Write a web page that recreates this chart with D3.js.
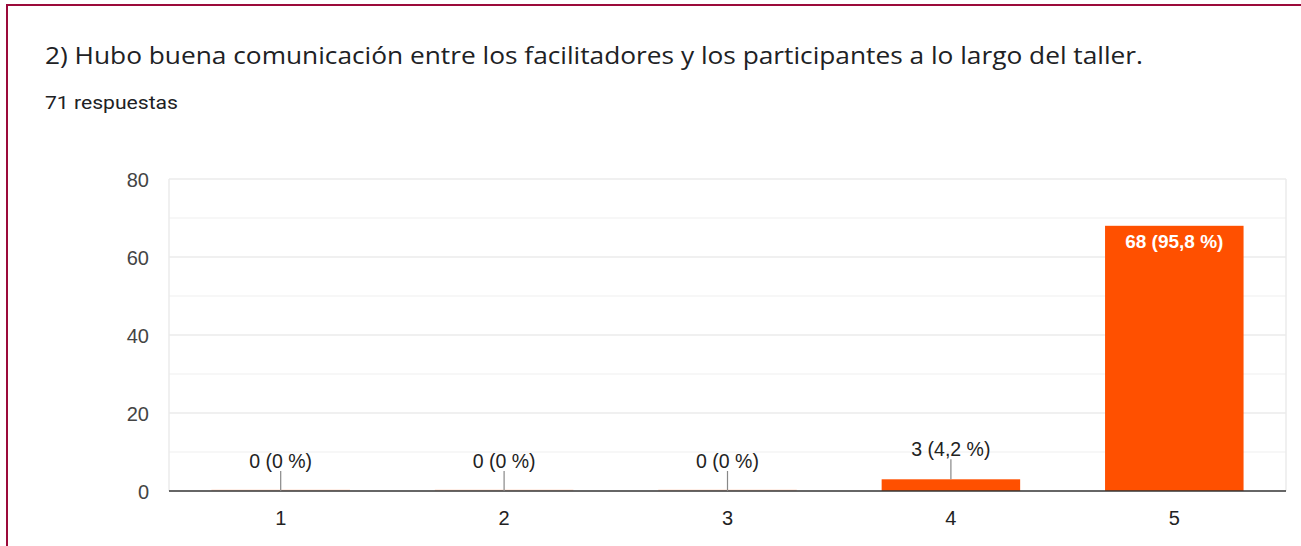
<!DOCTYPE html>
<html>
<head>
<meta charset="utf-8">
<script src="https://cdn.jsdelivr.net/npm/d3@7"></script>
<style>
  body { margin: 0; background: #fff; }
  svg { display: block; font-family: "Liberation Sans", Arial, sans-serif; }
</style>
</head>
<body>
<svg id="chart" width="1301" height="546"></svg>
<script>
var title = "2) Hubo buena comunicación entre los facilitadores y los participantes a lo largo del taller.";
var subtitle = "71 respuestas";
var categories = ["1", "2", "3", "4", "5"];
var counts = [0, 0, 0, 3, 68];
var labels = ["0 (0 %)", "0 (0 %)", "0 (0 %)", "3 (4,2 %)", "68 (95,8 %)"];
var yTicks = [0, 20, 40, 60, 80];
var yMinor = [10, 30, 50, 70];

var svg = d3.select("#chart");

// frame (top + left border)
svg.append("line").attr("x1", 6).attr("x2", 1301).attr("y1", 5).attr("y2", 5)
    .attr("stroke", "#9b0a3a").attr("stroke-width", 2);
svg.append("line").attr("x1", 7).attr("x2", 7).attr("y1", 4).attr("y2", 546)
    .attr("stroke", "#9b0a3a").attr("stroke-width", 2);

svg.append("text").attr("x", 45).attr("y", 64)
    .attr("textLength", 1098).attr("lengthAdjust", "spacingAndGlyphs")
    .style("font-family", "'Open Sans', Roboto, sans-serif")
    .style("font-size", "23.5px").style("fill", "#202124").text(title);
svg.append("text").attr("x", 45).attr("y", 109)
    .attr("textLength", 133).attr("lengthAdjust", "spacingAndGlyphs")
    .style("font-family", "Roboto, sans-serif")
    .style("font-size", "18px").style("fill", "#202124").text(subtitle);

var plotL = 169, plotR = 1286, plotT = 179, plotB = 491;

var x = d3.scaleBand().domain(categories).range([plotL, plotR]).paddingInner(0.38).paddingOuter(0.19);
var y = d3.scaleLinear().domain([0, 80]).range([plotB, plotT]);

// minor gridlines
svg.append("g").selectAll("line").data(yMinor).enter().append("line")
    .attr("x1", plotL).attr("x2", plotR)
    .attr("y1", function(d) { return y(d); }).attr("y2", function(d) { return y(d); })
    .attr("stroke", "#f4f4f4").attr("stroke-width", 1.5);

// major gridlines
svg.append("g").selectAll("line").data(yTicks.slice(1)).enter().append("line")
    .attr("x1", plotL).attr("x2", plotR)
    .attr("y1", function(d) { return y(d); }).attr("y2", function(d) { return y(d); })
    .attr("stroke", "#ebebeb").attr("stroke-width", 1.5);

// vertical edges of plot
svg.append("line").attr("x1", plotL).attr("x2", plotL).attr("y1", plotT).attr("y2", plotB)
    .attr("stroke", "#ebebeb").attr("stroke-width", 1.5);
svg.append("line").attr("x1", plotR).attr("x2", plotR).attr("y1", plotT).attr("y2", plotB)
    .attr("stroke", "#ebebeb").attr("stroke-width", 1.5);

// y axis labels
svg.append("g").selectAll("text").data(yTicks).enter().append("text")
    .attr("x", 149).attr("y", function(d) { return y(d) + 8; })
    .attr("text-anchor", "end")
    .style("font-size", "20px").style("fill", "#444").text(function(d) { return d; });

// bars
svg.append("g").selectAll("rect").data(counts).enter().append("rect")
    .attr("x", function(d, i) { return x(categories[i]); })
    .attr("width", x.bandwidth())
    .attr("y", function(d) { return d > 0 ? y(d) : plotB - 1.5; })
    .attr("height", function(d) { return d > 0 ? plotB - y(d) : 1.5; })
    .attr("fill", "#ff5000")
    .attr("fill-opacity", function(d) { return d > 0 ? 1 : 0.2; });

// baseline
svg.append("line").attr("x1", plotL).attr("x2", plotR).attr("y1", plotB).attr("y2", plotB)
    .attr("stroke", "#333").attr("stroke-width", 1.5);

// annotations
counts.forEach(function(d, i) {
    var cx = x(categories[i]) + x.bandwidth() / 2;
    if (d > 20) {
        svg.append("text").attr("x", cx).attr("y", y(d) + 22)
            .attr("text-anchor", "middle")
            .style("font-size", "19px").style("font-weight", "bold").style("fill", "#fff")
            .text(labels[i]);
    } else {
        var barTop = y(d);
        svg.append("line").attr("x1", cx).attr("x2", cx)
            .attr("y1", barTop - 20).attr("y2", barTop)
            .attr("stroke", "#888").attr("stroke-width", 1.2);
        svg.append("text").attr("x", cx).attr("y", barTop - 23)
            .attr("text-anchor", "middle")
            .style("font-size", "19.5px").style("fill", "#222")
            .text(labels[i]);
    }
});

// x axis labels
svg.append("g").selectAll("text").data(categories).enter().append("text")
    .attr("x", function(d) { return x(d) + x.bandwidth() / 2; })
    .attr("y", 525)
    .attr("text-anchor", "middle")
    .style("font-size", "20px").style("fill", "#222").text(function(d) { return d; });
</script>
</body>
</html>
